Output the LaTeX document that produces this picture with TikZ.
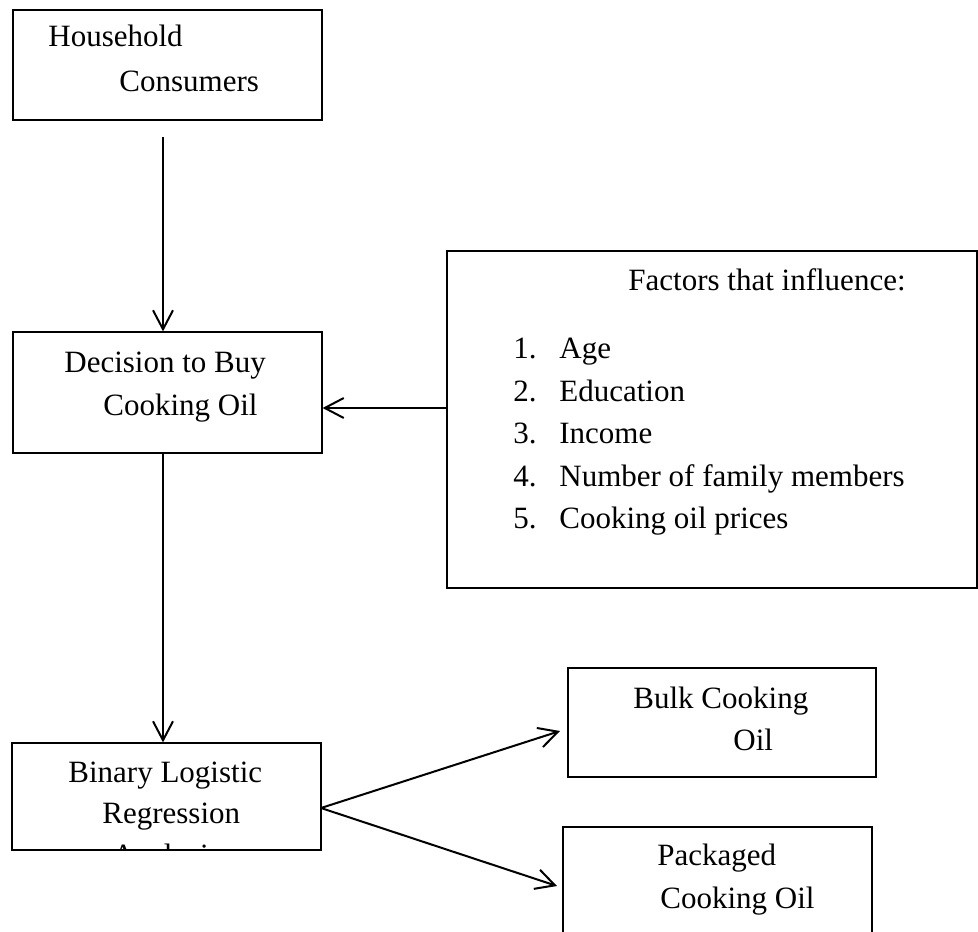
\documentclass[tikz,border=0pt]{standalone}
\usepackage{fontspec}
\setmainfont{Liberation Serif}
\usetikzlibrary{arrows.meta,fit}
\begin{document}
\begin{tikzpicture}[x=0.5pt,y=-0.5pt,
  box/.style={draw=black,line width=0.6pt,inner sep=0pt,fill=none},
  txt/.style={inner sep=0pt,anchor=base west,font=\fontsize{15.5pt}{18pt}\selectfont},
  arr/.style={draw=black,line width=1pt,-{Straight Barb[length=9.5pt,width=10pt,line width=1pt]}}]
\useasboundingbox (0,0) rectangle (978,931);
\clip (0,0) rectangle (978,931);
\fill[white] (0,0) rectangle (978,931);
% boxes
\node[box,fit={(13,10) (322,120)}] (hh) {};
\node[box,fit={(13,332) (322,453)}] (dec) {};
\node[box,fit={(447,251) (977,588)}] (fac) {};
\node[box,fit={(12,743) (321,850)}] (bin) {};
\node[box,fit={(568,668) (876,777)}] (bulk) {};
\node[box,fit={(563,827) (872,960)}] (pack) {};
% texts
\node[txt] (hh1) at (48,47) {Household};
\node[txt] (hh2) at (119,91) {Consumers};
\node[txt] (dec1) at (64,372) {Decision to Buy};
\node[txt] (dec2) at (103,415) {Cooking Oil};
\node[txt] (fac0) at (628,290) {Factors that influence:};
\node[txt] (n1) at (513,358) {1.};
\node[txt] (n2) at (513,401) {2.};
\node[txt] (n3) at (513,443) {3.};
\node[txt] (n4) at (513,486) {4.};
\node[txt] (n5) at (513,528) {5.};
\node[txt] (f1) at (559,358) {Age};
\node[txt] (f2) at (559,401) {Education};
\node[txt] (f3) at (559,443) {Income};
\node[txt] (f4) at (559,486) {Number of family members};
\node[txt] (f5) at (559,528) {Cooking oil prices};
\node[txt] (bin1) at (68,782) {Binary Logistic};
\node[txt] (bin2) at (102,823) {Regression};
\begin{scope}
  \clip (bin.south west) rectangle (bin.north east);
  \node[txt,anchor=base] (bin3) at (166.5,865) {Analysis};
\end{scope}
\node[txt] (bulk1) at (633,708) {Bulk Cooking};
\node[txt] (bulk2) at (733,750) {Oil};
\node[txt] (pack1) at (657,865) {Packaged};
\node[txt] (pack2) at (660,908) {Cooking Oil};
% connectors
\coordinate (a1) at (163,137);
\coordinate (a2) at (163,453);
\coordinate (a3) at (447,408);
\coordinate (a4) at (321,808);
\coordinate (t4) at (560,731);
\coordinate (t5) at (557,886);
\draw[arr] (a1) -- (a1 |- dec.north);
\draw[arr] (a2) -- (a2 |- bin.north);
\draw[arr] (a3) -- (a3 -| dec.east);
\draw[arr] (a4) -- (t4);
\draw[arr] (a4) -- (t5);
\end{tikzpicture}
\end{document}
